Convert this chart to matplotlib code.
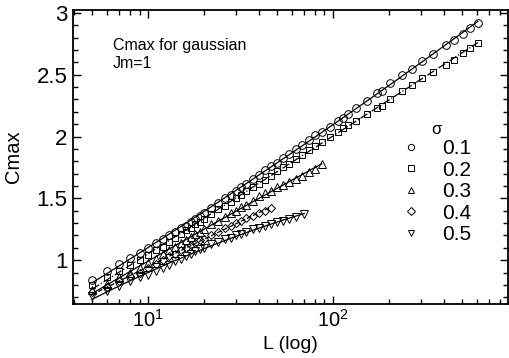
import numpy as np
import matplotlib
matplotlib.use('Agg')
import matplotlib.pyplot as plt
from matplotlib.lines import Line2D
from matplotlib.ticker import MultipleLocator

plt.rcParams['font.family'] = ['Liberation Sans', 'DejaVu Sans']
plt.rcParams['mathtext.fontset'] = 'custom'
plt.rcParams['mathtext.rm'] = 'Liberation Sans'

# system sizes L (shared grid) and Cmax for each sigma
L_all = [5, 6, 7, 8, 9, 10, 11, 12, 13, 14, 15, 16, 17, 18, 19, 20, 22, 24, 26, 28,
         30, 32, 34, 37, 40, 43, 46, 50, 54, 58, 63, 68, 74, 80, 87, 96, 106, 113,
         121, 133, 153, 173, 184, 203, 236, 267, 303, 347, 408, 451, 503, 550, 608]
c_01 = [0.84, 0.91, 0.97, 1.02, 1.06, 1.10, 1.14, 1.17, 1.20, 1.23, 1.26, 1.28, 1.31, 1.33,
        1.36, 1.38, 1.42, 1.46, 1.50, 1.53, 1.56, 1.59, 1.62, 1.66, 1.69, 1.73, 1.76, 1.79,
        1.83, 1.86, 1.90, 1.93, 1.97, 2.01, 2.04, 2.08, 2.13, 2.15, 2.18, 2.23, 2.29, 2.35,
        2.37, 2.43, 2.50, 2.55, 2.61, 2.67, 2.74, 2.78, 2.83, 2.88, 2.92]
c_02 = [0.80, 0.86, 0.91, 0.96, 1.00, 1.04, 1.08, 1.11, 1.15, 1.18, 1.21, 1.24, 1.26, 1.29,
        1.31, 1.33, 1.37, 1.41, 1.44, 1.47, 1.50, 1.53, 1.56, 1.59, 1.62, 1.65, 1.68, 1.72,
        1.75, 1.78, 1.82, 1.85, 1.89, 1.92, 1.96, 2.00, 2.04, 2.07, 2.09, 2.13, 2.18, 2.23,
        2.25, 2.30, 2.37, 2.42, 2.47, 2.52, 2.58, 2.62, 2.68, 2.72, 2.76]

L_03 = L_all[:35]
c_03 = [0.76, 0.81, 0.86, 0.90, 0.94, 0.975, 1.01, 1.05, 1.08, 1.11, 1.14, 1.16, 1.19, 1.21,
        1.23, 1.25, 1.29, 1.32, 1.35, 1.38, 1.40, 1.43, 1.45, 1.48, 1.52, 1.54, 1.56, 1.59,
        1.61, 1.63, 1.66, 1.68, 1.71, 1.74, 1.78]

L_04 = L_all[:27]
c_04 = [0.74, 0.78, 0.83, 0.87, 0.90, 0.935, 0.97, 1.00, 1.03, 1.05, 1.08, 1.10, 1.12, 1.14,
        1.16, 1.17, 1.20, 1.23, 1.26, 1.28, 1.30, 1.32, 1.34, 1.36, 1.38, 1.40, 1.42]

L_05 = L_all[:31] + [70]
c_05 = [0.71, 0.75, 0.79, 0.83, 0.86, 0.88, 0.91, 0.94, 0.96, 0.99, 1.01, 1.03, 1.05, 1.07,
        1.09, 1.10, 1.13, 1.15, 1.17, 1.18, 1.20, 1.21, 1.23, 1.25, 1.26, 1.28, 1.29, 1.31,
        1.32, 1.33, 1.35, 1.37]

sigmas = ['0.1', '0.2', '0.3', '0.4', '0.5']
series = [(L_all, c_01), (L_all, c_02), (L_03, c_03), (L_04, c_04), (L_05, c_05)]
markers = ['o', 's', '^', 'D', 'v']
msizes = [5.5, 5.0, 5.5, 4.5, 5.5]
lstyles = ['-', '-.', '-', '--', '-']

fig = plt.figure(figsize=(5.09, 3.58), dpi=100)
ax = fig.add_axes([0.1434, 0.1508, 0.8546, 0.8212])

for (L, c), m, ms, ls in zip(series, markers, msizes, lstyles):
    L = np.array(L, dtype=float)
    c = np.array(c)
    # smooth fit line through each series (in log L)
    p = np.polyfit(np.log10(L), c, 2)
    xx = np.geomspace(L[0], L[-1], 200)
    ax.plot(xx, np.polyval(p, np.log10(xx)), color='black', lw=0.9, ls=ls, zorder=2)
    ax.plot(L, c, ls='none', marker=m, ms=ms, mfc='none', mec='black', mew=0.7, zorder=3)

ax.set_xscale('log')
ax.set_xlim(3.93, 884)
ax.set_ylim(0.645, 3.024)
ax.yaxis.set_minor_locator(MultipleLocator(0.1))
ax.set_yticks([1, 1.5, 2, 2.5, 3])
ax.set_yticklabels(['1', '1.5', '2', '2.5', '3'])

ax.tick_params(which='both', direction='in', top=True, right=True, width=1)
ax.tick_params(axis='x', labelsize=14.5)
ax.tick_params(axis='y', labelsize=16, pad=4)
ax.tick_params(which='major', length=6)
ax.tick_params(which='minor', length=3.5)
for s in ax.spines.values():
    s.set_linewidth(1.3)

ax.set_xlabel('L (log)', fontsize=14, labelpad=4)
ax.set_ylabel('Cmax', fontsize=14.5, labelpad=10)

ax.text(0.092, 0.905, 'Cmax for gaussian\nJm=1', transform=ax.transAxes,
        fontsize=11.5, va='top', ha='left', linespacing=1.25)

handles = [Line2D([], [], ls='none', marker=m, ms=4.5, mfc='none', mec='black', mew=0.7)
           for m in markers]
leg = ax.legend(handles, sigmas, title='σ', loc='upper left', bbox_to_anchor=(0.72, 0.67),
                frameon=False, fontsize=15, title_fontsize=12, handletextpad=1.0,
                labelspacing=0.12, handlelength=1.0, borderpad=0.2)

fig.savefig('out.png', dpi=100)
